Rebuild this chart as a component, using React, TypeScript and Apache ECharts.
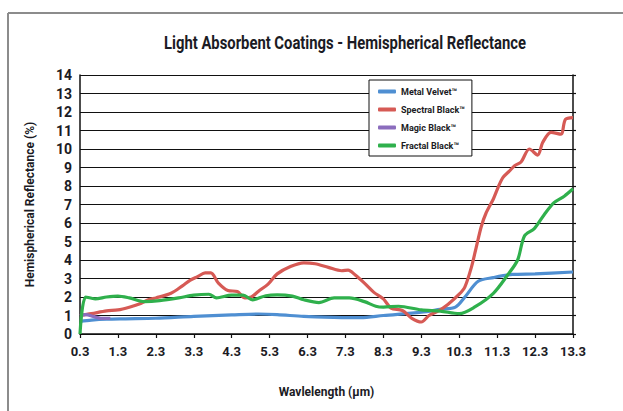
import React, { useEffect, useRef } from "react";
import * as echarts from "echarts";

const titleText = "Light Absorbent Coatings - Hemispherical Reflectance";
const xAxisName = "Wavlelength (μm)";
const yAxisName = "Hemispherical Reflectance (%)";
const xTickValues = [0.3, 1.3, 2.3, 3.3, 4.3, 5.3, 6.3, 7.3, 8.3, 9.3, 10.3, 11.3, 12.3, 13.3];
const seriesNames = ["Metal Velvet™", "Spectral Black™", "Magic Black™", "Fractal Black™"];

const metalVelvet = [
  [0.3, 0.68], [0.6, 0.75], [1.0, 0.8], [1.5, 0.82], [2.3, 0.85], [3.3, 0.95], [4.3, 1.03],
  [5.0, 1.08], [5.5, 1.05], [6.2, 0.95], [7.0, 0.9], [7.7, 0.88], [8.3, 1.0], [9.3, 1.18],
  [9.8, 1.33], [10.2, 1.45], [10.45, 2.0], [10.8, 2.85], [11.2, 3.05], [11.7, 3.22],
  [12.3, 3.25], [13.3, 3.35],
];

const spectralBlack = [
  [0.3, 1.0], [0.6, 1.1], [1.0, 1.25], [1.3, 1.3], [1.6, 1.45], [1.9, 1.65], [2.1, 1.85],
  [2.3, 1.95], [2.7, 2.2], [3.0, 2.6], [3.2, 2.9], [3.4, 3.1], [3.6, 3.3], [3.75, 3.3],
  [3.95, 2.75], [4.2, 2.35], [4.45, 2.3], [4.65, 1.95], [4.82, 2.0], [5.0, 2.3], [5.26, 2.7],
  [5.5, 3.25], [5.85, 3.65], [6.2, 3.85], [6.5, 3.8], [6.85, 3.6], [7.2, 3.42], [7.37, 3.45],
  [7.55, 3.2], [7.8, 2.75], [8.05, 2.25], [8.3, 1.9], [8.5, 1.4], [8.8, 1.27], [9.05, 0.85],
  [9.3, 0.65], [9.5, 1.0], [9.75, 1.25], [10.0, 1.6], [10.3, 2.15], [10.45, 2.55], [10.62, 3.6],
  [10.75, 4.7], [10.88, 5.8], [11.0, 6.5], [11.2, 7.3], [11.32, 7.9], [11.45, 8.45],
  [11.62, 8.8], [11.76, 9.1], [11.93, 9.3], [12.15, 10.0], [12.37, 9.67], [12.5, 10.35],
  [12.72, 10.9], [12.98, 10.8], [13.1, 11.6], [13.3, 11.7],
];

const magicBlack = [
  [0.3, 1.0], [0.45, 1.05], [0.65, 0.95], [0.85, 0.85], [1.1, 0.85],
];

const fractalBlack = [
  [0.3, 0.0], [0.45, 2.0], [0.7, 1.9], [1.0, 2.0], [1.3, 2.05], [1.6, 1.95], [2.0, 1.75],
  [2.4, 1.8], [2.9, 1.95], [3.3, 2.1], [3.7, 2.15], [3.9, 1.95], [4.3, 2.1], [4.6, 2.1],
  [4.85, 1.85], [5.2, 2.07], [5.5, 2.12], [5.9, 2.05], [6.2, 1.85], [6.6, 1.7], [7.0, 1.95],
  [7.4, 1.95], [7.8, 1.75], [8.1, 1.5], [8.3, 1.45], [8.7, 1.5], [9.3, 1.3], [9.8, 1.24],
  [10.3, 1.1], [10.7, 1.45], [11.2, 2.2], [11.58, 3.2], [11.84, 4.0], [12.02, 5.3],
  [12.28, 5.7], [12.54, 6.45], [12.8, 7.1], [13.07, 7.45], [13.3, 7.85],
];

const seriesData = [metalVelvet, spectralBlack, magicBlack, fractalBlack];
const seriesColors = ["#4f8fd2", "#d65a55", "#8b6dbd", "#2fb04c"];

const FONT = "Roboto, 'Liberation Sans', sans-serif";
const TEXT = "#1b1b24";

export default function App() {
  const ref = useRef<HTMLDivElement>(null);
  useEffect(() => {
    if (!ref.current) return;
    const chart = echarts.init(ref.current, null, { renderer: "svg" });
    chart.setOption({
      animation: false,
      backgroundColor: "#ffffff",
      legend: {
        left: 369,
        top: 80,
        orient: "vertical",
        backgroundColor: "#ffffff",
        borderColor: "#111",
        borderWidth: 1,
        padding: [5, 7, 4, 9],
        itemGap: 5,
        itemWidth: 18,
        itemHeight: 4,
        icon: "roundRect",
        data: seriesNames,
        textStyle: { fontFamily: FONT, fontSize: 9, fontWeight: "bold", color: TEXT, lineHeight: 13 },
      },
      graphic: [
        { type: "line", shape: { x1: 8, y1: 13, x2: 623, y2: 13 }, style: { stroke: "#8c8c8c", lineWidth: 2 } },
        { type: "line", shape: { x1: 8, y1: 13, x2: 8, y2: 411 }, style: { stroke: "#8c8c8c", lineWidth: 2 } },
        {
          type: "text",
          x: 345,
          y: 42,
          scaleX: 0.78,
          style: {
            text: titleText,
            align: "center",
            verticalAlign: "middle",
            fontFamily: FONT,
            fontSize: 19,
            fontWeight: "bold",
            fill: TEXT,
          },
        },
      ],
      grid: { left: 80, right: 50, top: 75, bottom: 77, containLabel: false },
      xAxis: {
        type: "value",
        min: 0.3,
        max: 13.3,
        name: xAxisName,
        nameLocation: "middle",
        nameGap: 52,
        nameTextStyle: { fontFamily: FONT, fontSize: 12, fontWeight: "bold", color: TEXT },
        axisLine: { show: true, lineStyle: { color: "#111", width: 1.5 } },
        axisTick: { show: true, customValues: xTickValues, length: 4, lineStyle: { color: "#111", width: 1.2 } },
        axisLabel: {
          customValues: xTickValues,
          formatter: (v: number) => v.toFixed(1),
          fontFamily: FONT,
          fontSize: 13,
          fontWeight: "bold",
          color: TEXT,
          margin: 11,
        },
        splitLine: { show: false },
      },
      yAxis: [
        {
          type: "value",
          min: 0,
          max: 14,
          interval: 1,
          name: yAxisName,
          nameLocation: "middle",
          nameGap: 44,
          nameTextStyle: { fontFamily: FONT, fontSize: 12, fontWeight: "bold", color: TEXT },
          axisLine: { show: true, lineStyle: { color: "#111", width: 1.5 } },
          axisTick: { show: false },
          axisLabel: { fontFamily: FONT, fontSize: 14, fontWeight: "bold", color: TEXT, margin: 8 },
          splitLine: { show: true, lineStyle: { color: "#111", width: 1.2 } },
        },
        {
          type: "value",
          position: "right",
          min: 0,
          max: 14,
          interval: 1,
          axisLine: { show: true, lineStyle: { color: "#111", width: 1.5 } },
          axisTick: { show: true, length: 3, lineStyle: { color: "#111", width: 1.2 } },
          axisLabel: { show: false },
          splitLine: { show: false },
        },
      ],
      series: seriesNames.map((name, i) => ({
        name,
        type: "line",
        data: seriesData[i],
        showSymbol: false,
        symbol: "none",
        smooth: 0.3,
        color: seriesColors[i],
        lineStyle: { color: seriesColors[i], width: 3.2 },
        z: 3 + i,
      })),
    });
    return () => chart.dispose();
  }, []);
  return <div ref={ref} style={{ position: "fixed", left: 0, top: 0, width: 623, height: 411 }} />;
}
